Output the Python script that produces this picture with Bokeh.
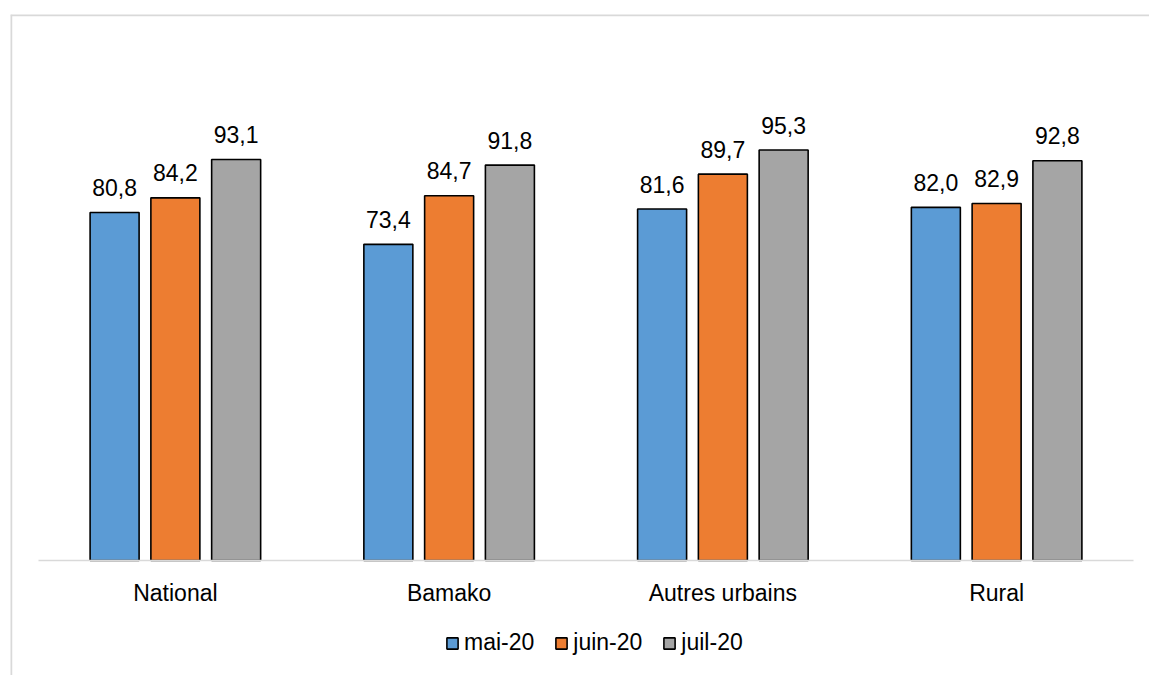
from bokeh.plotting import figure
from bokeh.models import Range1d
from bokeh.core.properties import value
from bokeh.embed import file_html
from bokeh.resources import INLINE

categories = ["National", "Bamako", "Autres urbains", "Rural"]
series = ["mai-20", "juin-20", "juil-20"]
mai = [80.8, 73.4, 81.6, 82.0]
juin = [84.2, 84.7, 89.7, 82.9]
juil = [93.1, 91.8, 95.3, 92.8]
colors = ["#5B9BD5", "#ED7D31", "#A5A5A5"]

FONT = "Liberation Sans"
FS = "23px"

# layout: frame spans the chart area (x 10..1149, y 14..675 in page px)
W, H = 1149, 675
ml, mt = 10, 14
frame_w = W - ml
frame_h = H - mt
x_px0, x_px1 = 28, 1123          # category axis start/end within frame
xs = (x_px1 - x_px0) / len(categories)
x_start = -x_px0 / xs
x_end = (frame_w - x_px0) / xs
y_base = 546                      # baseline px from frame top
ys = 4.307
y_end = y_base / ys
y_start = -(frame_h - y_base) / ys

p = figure(width=W, height=H, output_backend="svg", toolbar_location=None,
           x_range=Range1d(x_start, x_end), y_range=Range1d(y_start, y_end),
           x_axis_type=None, y_axis_type=None,
           min_border_left=ml, min_border_top=mt, min_border_right=0, min_border_bottom=0)
p.outline_line_color = None
p.xgrid.visible = False
p.ygrid.visible = False
p.background_fill_color = "white"
p.border_fill_color = "white"

offsets = [-0.222, 0.0, 0.222]
bw = 0.179
for vals, name, col, off in zip([mai, juin, juil], series, colors, offsets):
    xpos = [i + 0.5 + off for i in range(len(categories))]
    p.vbar(x=xpos, top=vals, bottom=0, width=bw, fill_color=col,
           line_color="black", line_width=1.6, legend_label=name)
    labels = [f"{v:.1f}".replace(".", ",") for v in vals]
    p.text(x=xpos, y=vals, text=labels, text_align="center", text_baseline="alphabetic",
           y_offset=-25, text_font=value(FONT), text_font_size=FS, text_color="black")

# baseline
p.segment(x0=[0], y0=[0], x1=[len(categories)], y1=[0], line_color="#D9D9D9", line_width=1.6)

# category labels
p.text(x=[i + 0.5 for i in range(len(categories))], y=[0] * len(categories), text=categories,
       text_align="center", text_baseline="alphabetic", y_offset=32,
       text_font=value(FONT), text_font_size=FS, text_color="black")

# chart border (left and top)
p.segment(x0=[x_start, x_start], y0=[y_start, y_end], x1=[x_start, x_end], y1=[y_end, y_end],
          line_color="#D9D9D9", line_width=3.5)

lg = p.legend[0]
lg.orientation = "horizontal"
lg.location = (435, 19)
lg.border_line_color = None
lg.background_fill_alpha = 0
lg.label_text_font = FONT
lg.label_text_font_size = FS
lg.label_text_color = "black"
lg.glyph_width = 14
lg.glyph_height = 14
lg.label_standoff = 5
lg.spacing = 20
lg.padding = 0
lg.margin = 0

open("out.html", "w").write(file_html(p, INLINE))
